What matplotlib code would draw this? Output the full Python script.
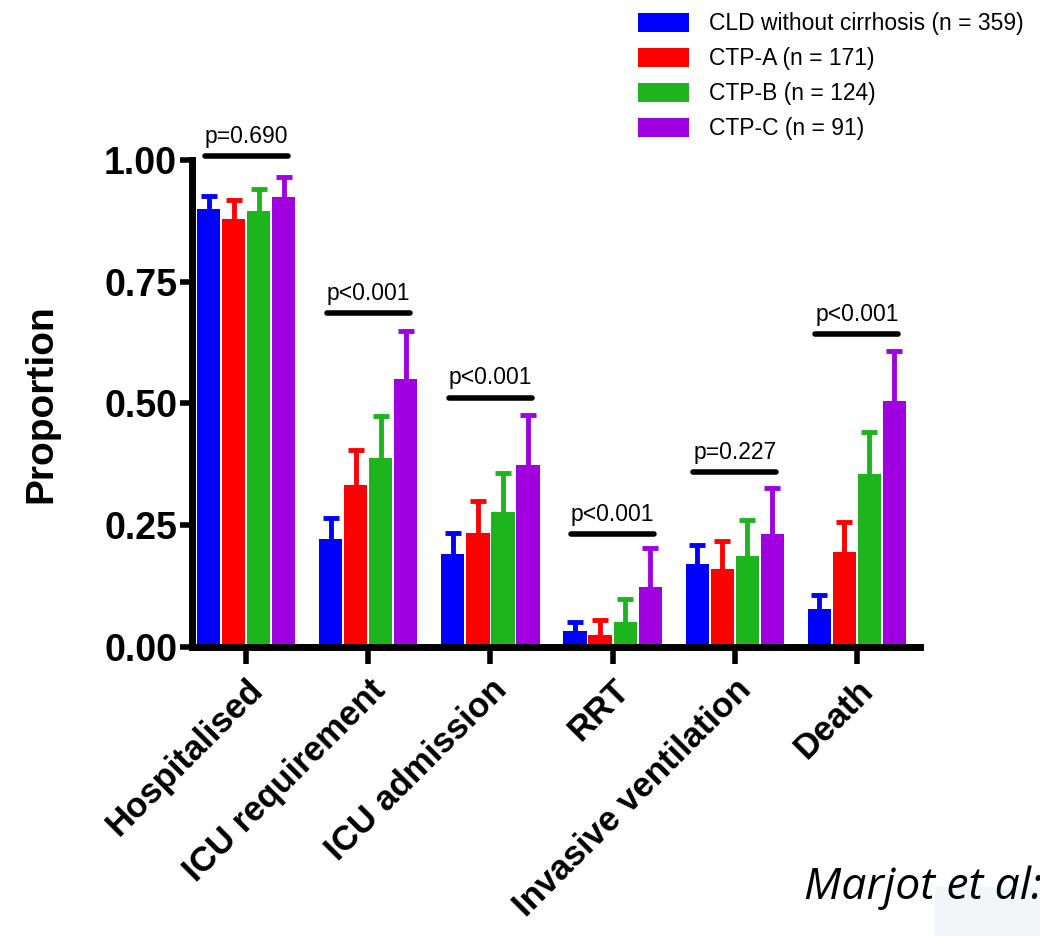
import numpy as np
import matplotlib
matplotlib.use("Agg")
import matplotlib.pyplot as plt
from matplotlib.patches import Rectangle

plt.rcParams['font.family'] = ['Liberation Sans', 'DejaVu Sans']

# --- data ---
outcomes = ['Hospitalised', 'ICU requirement', 'ICU admission', 'RRT',
            'Invasive ventilation', 'Death']
groups = ['CLD without cirrhosis (n = 359)', 'CTP-A (n = 171)',
          'CTP-B (n = 124)', 'CTP-C (n = 91)']
colors = ['#0000ff', '#ff0000', '#1db41d', '#a000e0']

cld = [0.900, 0.221, 0.191, 0.032, 0.171, 0.077]
ctp_a = [0.878, 0.332, 0.234, 0.024, 0.159, 0.194]
ctp_b = [0.896, 0.387, 0.276, 0.051, 0.187, 0.356]
ctp_c = [0.924, 0.550, 0.374, 0.122, 0.231, 0.505]

cld_upper = [0.927, 0.264, 0.234, 0.051, 0.209, 0.106]
ctp_a_upper = [0.918, 0.404, 0.300, 0.055, 0.218, 0.257]
ctp_b_upper = [0.940, 0.474, 0.357, 0.098, 0.261, 0.441]
ctp_c_upper = [0.966, 0.649, 0.477, 0.203, 0.326, 0.608]

p_values = ['p=0.690', 'p<0.001', 'p<0.001', 'p<0.001', 'p=0.227', 'p<0.001']
p_heights = [1.008, 0.686, 0.512, 0.231, 0.359, 0.642]

means = [cld, ctp_a, ctp_b, ctp_c]
uppers = [cld_upper, ctp_a_upper, ctp_b_upper, ctp_c_upper]

fig = plt.figure(figsize=(10.4, 9.36), dpi=100)
ax = fig.add_axes([0.185, 0.309, 0.700, 0.520])

x = np.arange(len(outcomes))
step = 0.205
for i in range(4):
    xs = x + (i - 1.5) * step
    m = np.array(means[i])
    up = np.array(uppers[i]) - m
    ax.bar(xs, m, width=0.19, color=colors[i], linewidth=0,
           label=groups[i], zorder=2)
    eb = ax.errorbar(xs, m, yerr=[np.zeros_like(m), up], fmt='none',
                     ecolor=colors[i], elinewidth=3.5, capsize=6,
                     capthick=3.5, zorder=1)
    eb[1][0].set_visible(False)  # only the upper whisker cap

# significance bars
for xi, txt, h in zip(x, p_values, p_heights):
    ax.plot([xi - 0.34, xi + 0.34], [h, h], color='black', lw=4,
            solid_capstyle='round', clip_on=False)
    ax.text(xi, h + 0.017, txt, ha='center', va='bottom', fontsize=16.5,
            clip_on=False)

ax.set_xlim(-0.44, 5.52)
ax.set_ylim(0, 1.0)
ax.set_yticks([0, 0.25, 0.5, 0.75, 1.0])
ax.set_yticklabels(['0.00', '0.25', '0.50', '0.75', '1.00'],
                   fontsize=27, fontweight='bold')
ax.set_xticks(x)
ax.set_xticklabels(outcomes, rotation=45, ha='right', rotation_mode='anchor',
                   fontsize=25, fontweight='bold')
ax.set_ylabel('Proportion', fontsize=28, fontweight='bold', labelpad=32)

for s in ['top', 'right']:
    ax.spines[s].set_visible(False)
for s in ['left', 'bottom']:
    ax.spines[s].set_linewidth(5)
ax.tick_params(axis='y', width=4, length=9, pad=2)
ax.tick_params(axis='x', width=4, length=12, pad=7)

fig.legend(loc='upper left', bbox_to_anchor=(0.594, 1.009), frameon=False,
           fontsize=16.5, handlelength=2.2, handleheight=0.9,
           labelspacing=0.52, handletextpad=0.9)

# bottom-right caption
fig.patches.append(Rectangle((0.899, 0.0), 0.101, 0.052,
                             transform=fig.transFigure,
                             color='#f2f6f9', zorder=0))
fig.text(0.773, 0.040, 'Marjot et al:', fontsize=32, style='italic',
         family=['Open Sans', 'DejaVu Sans'], ha='left', va='baseline')

fig.savefig('out.png', dpi=100)
